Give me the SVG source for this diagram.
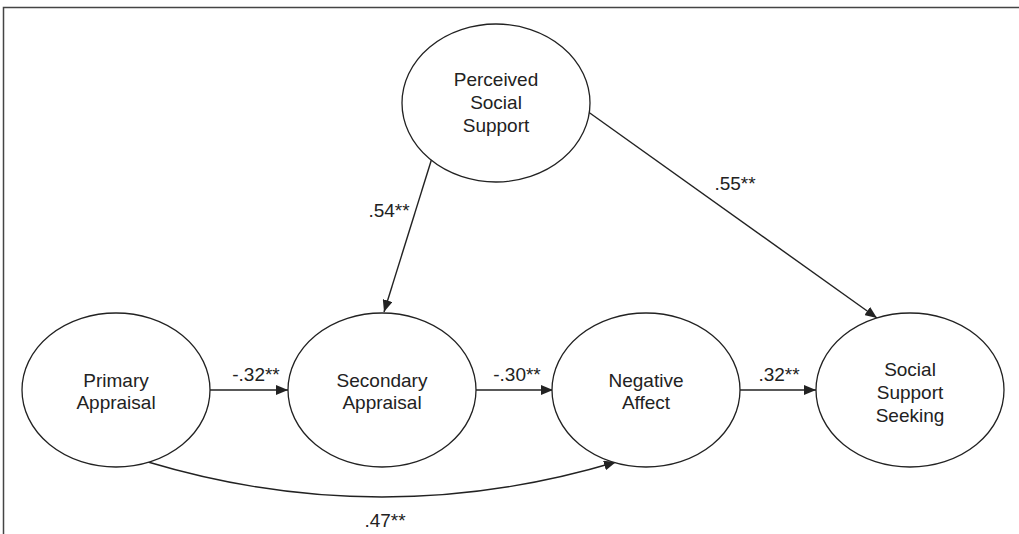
<svg xmlns="http://www.w3.org/2000/svg" width="1019" height="534" viewBox="0 0 1019 534">
<style>
.node{fill:#fff;stroke:#222;stroke-width:1.3}
.t{font-family:"Liberation Sans",Arial,sans-serif;font-size:19px;fill:#222;text-anchor:middle}
.l{font-family:"Liberation Sans",Arial,sans-serif;font-size:19px;fill:#222;text-anchor:middle}
.c{fill:none;stroke:#222;stroke-width:1.4}
</style>
<defs>
<marker id="ah" viewBox="0 0 12 10" refX="12" refY="5" markerWidth="12" markerHeight="10" markerUnits="userSpaceOnUse" orient="auto">
<path d="M0,0 L12,5 L0,10 Z" fill="#222"/>
</marker>
</defs>
<rect width="1019" height="534" fill="#fff"/>
<path d="M3.5,534 V7.5 H1019" fill="none" stroke="#444" stroke-width="1.5"/>
<g id="connectors">
<line class="c" x1="210" y1="390" x2="288" y2="390" marker-end="url(#ah)"/>
<line class="c" x1="476" y1="390" x2="553" y2="390" marker-end="url(#ah)"/>
<line class="c" x1="740" y1="390" x2="816" y2="390" marker-end="url(#ah)"/>
<line class="c" x1="432" y1="158" x2="384" y2="312" marker-end="url(#ah)"/>
<line class="c" x1="587" y1="111" x2="877" y2="318" marker-end="url(#ah)"/>
<path class="c" d="M148,462 Q382,532 616,462" marker-end="url(#ah)"/>
<text class="l" x="256" y="381">-.32**</text>
<text class="l" x="517" y="381">-.30**</text>
<text class="l" x="779" y="381">.32**</text>
<text class="l" x="389" y="217">.54**</text>
<text class="l" x="735" y="190">.55**</text>
<text class="l" x="385" y="527">.47**</text>
</g>
<g id="perceived">
<ellipse class="node" cx="496" cy="103" rx="94" ry="79"/>
<text class="t" x="496" y="86">Perceived</text>
<text class="t" x="496" y="109">Social</text>
<text class="t" x="496" y="132">Support</text>
</g>
<g id="primary">
<ellipse class="node" cx="116" cy="390" rx="94" ry="77"/>
<text class="t" x="116" y="387">Primary</text>
<text class="t" x="116" y="409">Appraisal</text>
</g>
<g id="secondary">
<ellipse class="node" cx="382" cy="390" rx="94" ry="77"/>
<text class="t" x="382" y="387">Secondary</text>
<text class="t" x="382" y="409">Appraisal</text>
</g>
<g id="negative">
<ellipse class="node" cx="646" cy="390" rx="94" ry="77"/>
<text class="t" x="646" y="387">Negative</text>
<text class="t" x="646" y="409">Affect</text>
</g>
<g id="seeking">
<ellipse class="node" cx="910" cy="390" rx="94" ry="77"/>
<text class="t" x="910" y="376">Social</text>
<text class="t" x="910" y="399">Support</text>
<text class="t" x="910" y="422">Seeking</text>
</g>
</svg>
